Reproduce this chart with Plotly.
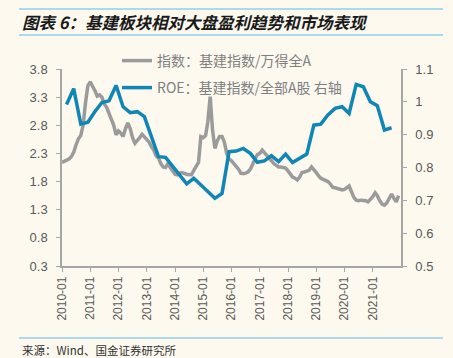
import plotly.graph_objects as go
import pandas as pd

# ---- data ----
index_months = pd.date_range("2010-01-01", "2021-12-01", freq="MS")
index_values = [
    2.14, 2.16, 2.17, 2.20, 2.24, 2.32, 2.45, 2.56, 2.62, 2.80, 3.20, 3.50,
    3.57, 3.50, 3.42, 3.32, 3.34, 3.30, 3.18, 3.12, 3.02, 2.92, 2.80, 2.63,
    2.70, 2.66, 2.60, 2.74, 2.84, 2.74, 2.58, 2.48, 2.52, 2.58, 2.64, 2.60,
    2.55, 2.50, 2.42, 2.36, 2.26, 2.22, 2.12, 2.06, 2.05, 2.12, 2.05, 1.98,
    1.93, 1.92, 1.95, 1.96, 1.94, 1.93, 1.92, 1.92, 2.00, 2.08, 2.14, 2.60,
    2.58, 2.62, 2.86, 3.31, 2.72, 2.39, 2.52, 2.60, 2.60, 2.50, 2.30, 2.20,
    2.17, 2.12, 2.08, 2.02, 1.95, 1.94, 1.95, 1.97, 2.02, 2.12, 2.20, 2.28,
    2.30, 2.36, 2.32, 2.26, 2.22, 2.17, 2.12, 2.09, 2.06, 2.06, 2.05, 2.04,
    1.99, 1.93, 1.88, 1.86, 1.83, 1.88, 1.96, 1.97, 1.99, 2.00, 2.06, 2.02,
    1.96, 1.90, 1.86, 1.84, 1.82, 1.80, 1.76, 1.70, 1.69, 1.68, 1.66, 1.65,
    1.66, 1.70, 1.72, 1.62, 1.52, 1.47, 1.46, 1.47, 1.47, 1.46, 1.44, 1.48,
    1.53, 1.60, 1.55, 1.46, 1.40, 1.38, 1.42, 1.50, 1.58, 1.50, 1.44, 1.55,
]

roe_quarters = pd.date_range("2010-03-01", "2021-09-01", freq="3MS")
roe_values = [
    0.992, 1.040, 0.932, 0.938,
    0.970, 0.998, 1.003, 1.050,
    0.985, 0.967, 0.970, 0.955,
    0.895, 0.833, 0.831, 0.805,
    0.778, 0.750, 0.767, 0.747,
    0.727, 0.706, 0.721, 0.848,
    0.850, 0.858, 0.843, 0.816,
    0.820, 0.836, 0.818, 0.841,
    0.815, 0.828, 0.841, 0.929,
    0.932, 0.960, 0.980, 0.985,
    0.965, 1.053, 1.046, 1.000,
    0.988, 0.914, 0.921,
]

x_tick_dates = pd.date_range("2010-01-01", "2021-01-01", freq="YS")
x_tick_labels = [d.strftime("%Y-%m") for d in x_tick_dates]
left_ticks = [0.3, 0.8, 1.3, 1.8, 2.3, 2.8, 3.3, 3.8]
right_ticks = [0.5, 0.6, 0.7, 0.8, 0.9, 1.0, 1.1]
right_tick_labels = ["0.5", "0.6", "0.7", "0.8", "0.9", "1", "1.1"]

name_index = "指数：基建指数/万得全A"
name_roe = "ROE：基建指数/全部A股 右轴"
title_text = "图表 6：基建板块相对大盘盈利趋势和市场表现"
source_text = "来源：Wind、国金证券研究所"

# ---- figure ----
BG = "#FDF9EF"
AX = "#A6A6A6"
TICKC = "#595959"
FONT = "Liberation Sans, Noto Sans CJK SC, sans-serif"
CJK = "Noto Sans CJK SC, sans-serif"

fig = go.Figure()
fig.add_trace(go.Scatter(
    x=index_months, y=index_values, name=name_index, mode="lines",
    line=dict(color="#9B9B9B", width=3.5), yaxis="y", legend="legend",
))
fig.add_trace(go.Scatter(
    x=roe_quarters, y=roe_values, name=name_roe, mode="lines",
    line=dict(color="#0F86B6", width=3.5), yaxis="y2", legend="legend2",
))

L, R, T, B = 62, 52, 69, 92
W, H = 453, 358
pw, ph = W - L - R, H - T - B

def px_x(px):
    return (px - L) / pw

def px_y(py):
    return (H - B - py) / ph

fig.update_layout(
    width=W, height=H,
    margin=dict(l=L, r=R, t=T, b=B, pad=0),
    paper_bgcolor=BG, plot_bgcolor=BG,
    font=dict(family=FONT, size=12, color=TICKC),
    showlegend=True,
    legend=dict(
        x=px_x(117), y=px_y(45), xanchor="left", yanchor="top",
        bgcolor="rgba(0,0,0,0)", borderwidth=0,
        font=dict(family=CJK, size=14, color="#7F7F7F"),
    ),
    legend2=dict(
        x=px_x(117), y=px_y(72), xanchor="left", yanchor="top",
        bgcolor="rgba(0,0,0,0)", borderwidth=0,
        font=dict(family=CJK, size=14, color="#7F7F7F"),
    ),
    xaxis=dict(
        type="date",
        range=["2010-01-01", "2022-01-01"],
        tickvals=x_tick_dates, ticktext=x_tick_labels,
        tickangle=-90,
        showgrid=False, zeroline=False,
        showline=True, linecolor=AX, linewidth=1.5,
        ticks="outside", ticklen=4, tickcolor=AX, tickwidth=1,
        tickfont=dict(family=FONT, size=12, color=TICKC),
        automargin=False,
    ),
    yaxis=dict(
        range=[0.3, 3.8], tickvals=left_ticks,
        ticktext=[f"{v:.1f}" for v in left_ticks],
        showgrid=False, zeroline=False,
        showline=True, linecolor=AX, linewidth=1.5,
        ticks="outside", ticklen=4, tickcolor=AX, tickwidth=1,
        tickfont=dict(family=FONT, size=13, color=TICKC),
        ticklabelstandoff=6,
        automargin=False,
    ),
    yaxis2=dict(
        range=[0.5, 1.1], tickvals=right_ticks, ticktext=right_tick_labels,
        overlaying="y", side="right",
        showgrid=False, zeroline=False,
        showline=True, linecolor=AX, linewidth=1.5,
        ticks="outside", ticklen=4, tickcolor=AX, tickwidth=1,
        tickfont=dict(family=FONT, size=13, color=TICKC),
        ticklabelstandoff=6,
        automargin=False,
    ),
)

line_color = "#8ECFEA"
for py in (9, 35, 338):
    fig.add_shape(type="line", xref="paper", yref="paper",
                  x0=px_x(19), x1=px_x(443), y0=px_y(py), y1=px_y(py),
                  line=dict(color=line_color, width=1.5))

fig.add_annotation(
    text=f"<b><i>{title_text}</i></b>", xref="paper", yref="paper",
    x=px_x(20), y=px_y(22), xanchor="left", yanchor="middle", showarrow=False,
    font=dict(family=CJK, size=16.5, color="#1A1A1A"),
)
fig.add_annotation(
    text=source_text, xref="paper", yref="paper",
    x=px_x(20), y=px_y(350), xanchor="left", yanchor="middle", showarrow=False,
    font=dict(family=CJK, size=11.5, color="#333333"),
)

fig.write_html(
    "out.html",
    config={"displayModeBar": False},
    post_script="document.body.style.margin='0px';document.body.style.background='" + BG + "';",
)
